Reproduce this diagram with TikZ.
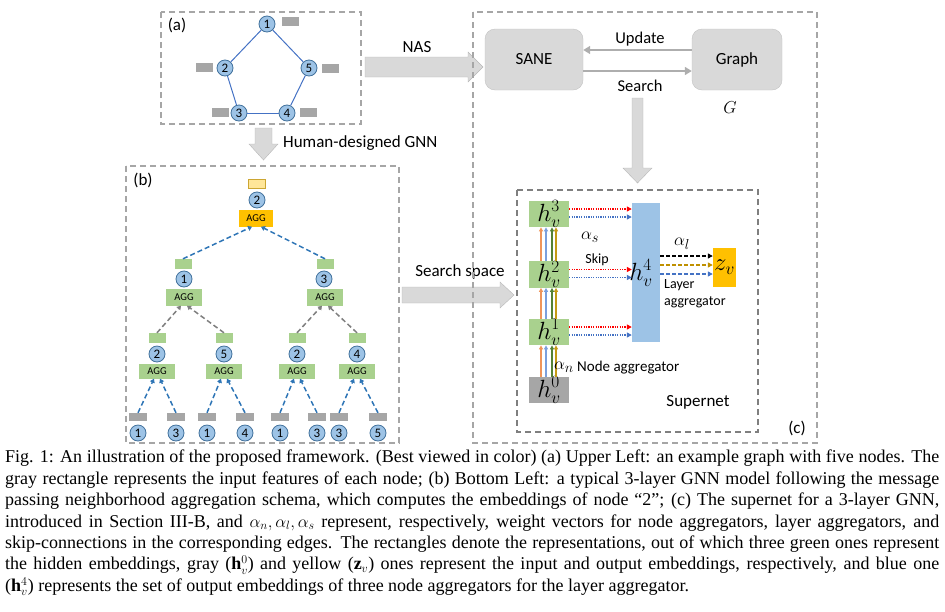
\documentclass[tikz,border=0pt]{standalone}
\usepackage{fontspec}
\setmainfont{Liberation Serif}
\newfontfamily\calib{Carlito}
\usetikzlibrary{arrows.meta,calc}
\definecolor{nodeblue}{HTML}{9DC3E6}
\definecolor{nodeedge}{HTML}{41719C}
\definecolor{edgeblue}{HTML}{4472C4}
\definecolor{featgray}{HTML}{A6A6A6}
\definecolor{hidgreen}{HTML}{A9D18E}
\definecolor{agggold}{HTML}{FFC000}
\definecolor{lightyel}{HTML}{FFE699}
\definecolor{darkgold}{HTML}{BF9000}
\definecolor{arrblue}{HTML}{2E75B6}
\definecolor{boxgray}{HTML}{D9D9D9}
\definecolor{dashgray}{HTML}{A6A6A6}
\definecolor{midgray}{HTML}{7F7F7F}
\definecolor{vorange}{HTML}{F0955A}
\definecolor{vblue}{HTML}{7B9FDC}
\definecolor{vgreen}{HTML}{548235}
\definecolor{vgold}{HTML}{C59B16}
\definecolor{connblue}{HTML}{4472C4}
\begin{document}
\begin{tikzpicture}[x=1pt,y=-1pt,
  gnode/.style={circle, draw=nodeedge, fill=nodeblue, line width=0.8pt, minimum size=16pt, inner sep=0pt, font=\calib\fontsize{13}{13}\selectfont},
  feat/.style={rectangle, fill=featgray, minimum width=17pt, minimum height=9pt, inner sep=0pt},
  hid/.style={rectangle, fill=hidgreen, minimum width=17pt, minimum height=10pt, inner sep=0pt},
  agg/.style={rectangle, fill=hidgreen, minimum width=36pt, minimum height=16pt, inner sep=0pt, font=\calib\fontsize{10.5}{11}\selectfont},
  dbox/.style={draw=dashgray, line width=1.4pt, dash pattern=on 6pt off 4pt},
  barrow/.style={fill=boxgray, draw=boxgray!85!black, line width=0.4pt},
  bluedash/.style={draw=arrblue, line width=1.5pt, dash pattern=on 5pt off 3pt, -{Triangle[width=5pt,length=4pt,fill=arrblue]}},
  graydash/.style={draw=midgray, line width=1.5pt, dash pattern=on 5pt off 3pt, -{Triangle[width=5pt,length=4pt,fill=midgray]}},
  lbl/.style={font=\calib\fontsize{17}{20}\selectfont, inner sep=0pt},
  slbl/.style={font=\calib\fontsize{14}{17}\selectfont, inner sep=0pt},
  sbox/.style={rectangle, rounded corners=10pt, fill=boxgray, draw=boxgray!90!black, line width=0.4pt, font=\calib\fontsize{17}{20}\selectfont},
  garrow/.style={draw=boxgray!80!black, line width=1.6pt, -{Triangle[width=8pt,length=7pt]}},
  hbox/.style={rectangle, fill=hidgreen, minimum width=40pt, inner sep=0pt, font=\fontsize{25}{28}\selectfont},
  varrow/.style={line width=1.1pt, -{Triangle[width=4pt,length=4pt]}},
  dotarrow/.style={line width=1.2pt, dash pattern=on 1.2pt off 1.2pt, -{Triangle[width=5pt,length=5pt]}},
  dsharrow/.style={line width=1.2pt, dash pattern=on 4pt off 2pt, -{Triangle[width=5pt,length=5pt]}},
  mlbl/.style={font=\fontsize{19}{22}\selectfont, inner sep=0pt}
]
\useasboundingbox (0,0) rectangle (945,611);

% ---------- (a) ----------
\draw[dbox] (161,12) rectangle (361,124);
\node[lbl] (la) at (177,25) {(a)};
\node[gnode] (a1) at (267,24) {1};
\node[gnode] (a2) at (225,68) {2};
\node[gnode] (a5) at (309,68) {5};
\node[gnode] (a3) at (239,113) {3};
\node[gnode] (a4) at (287,113) {4};
\draw[edgeblue, line width=1pt] (a1) -- (a2);
\draw[edgeblue, line width=1pt] (a2) -- (a3);
\draw[edgeblue, line width=1pt] (a3) -- (a4);
\draw[edgeblue, line width=1pt] (a4) -- (a5);
\draw[edgeblue, line width=1pt] (a5) -- (a1);
\node[feat] (f1) at (290,21) {};
\node[feat] (f2) at (204,67) {};
\node[feat] (f5) at (330,68) {};
\node[feat] (f3) at (220,112) {};
\node[feat] (f4) at (308,112) {};

% human-designed arrow
\draw[barrow] (255,128) -- (272,128) -- (272,144) -- (278,144) -- (263.5,160) -- (249,144) -- (255,144) -- cycle;
\node[lbl, anchor=west] (lhum) at (283,143) {Human-designed GNN};

% ---------- (b) ----------
\draw[dbox] (126,166) rectangle (399,443);
\node[lbl] (lb) at (143,180) {(b)};
\node[rectangle, fill=lightyel, draw=darkgold!80, line width=0.6pt, minimum width=17pt, minimum height=9pt, inner sep=0pt] (tr) at (257,184) {};
\node[gnode] (tc) at (257,200) {2};
\node[agg, fill=agggold, minimum width=34pt, minimum height=17pt] (ta) at (256,218) {AGG};

\node[hid] (lr) at (183,264) {};
\node[gnode] (lc) at (184,279) {1};
\node[agg, minimum height=17pt] (la2) at (184,297) {AGG};
\node[hid] (rr) at (325,264) {};
\node[gnode] (rc) at (324,279) {3};
\node[agg, minimum height=17pt] (ra2) at (325,297) {AGG};

\draw[bluedash] (lr.north) -- ($(ta.south)+(-4,0)$);
\draw[bluedash] (rr.north) -- ($(ta.south)+(5,0)$);

\foreach \i/\x/\n in {1/157/2, 2/224/5, 3/297/2, 4/357/4} {
  \node[hid] (m\i r) at (\x,338) {};
  \node[gnode] (m\i c) at (\x,354) {\n};
  \node[agg, minimum height=15pt] (m\i a) at (\x,371) {AGG};
}
\draw[graydash] (m1r.north) -- ($(la2.south)+(-3,0)$);
\draw[graydash] (m2r.north) -- ($(la2.south)+(3,0)$);
\draw[graydash] (m3r.north) -- ($(ra2.south)+(-3,0)$);
\draw[graydash] (m4r.north) -- ($(ra2.south)+(3,0)$);

\foreach \i/\xa/\na/\xb/\nb in {1/138/1/176/3, 2/207/1/245/4, 3/280/1/317/3, 4/339/3/378/5} {
  \node[feat, minimum width=18pt, minimum height=8pt] (b\i l) at (\xa,417) {};
  \node[feat, minimum width=18pt, minimum height=8pt] (b\i r) at (\xb,417) {};
  \node[gnode] (b\i lc) at (\xa,433) {\na};
  \node[gnode] (b\i rc) at (\xb,433) {\nb};
  \draw[bluedash] (b\i l.north) -- ($(m\i a.south)+(-3,0)$);
  \draw[bluedash] (b\i r.north) -- ($(m\i a.south)+(3,0)$);
}

% NAS arrow
\draw[barrow] (365,57) -- (468,57) -- (468,52) -- (483,67) -- (468,82) -- (468,77) -- (365,77) -- cycle;
\node[lbl] (lnas) at (417,47) {NAS};

% search space arrow
\draw[barrow] (402,287) -- (500,287) -- (500,282) -- (514,295) -- (500,308) -- (500,303) -- (402,303) -- cycle;
\node[lbl] (lss) at (460,272) {Search space};

% ---------- (c) ----------
\draw[dbox] (473,12) rectangle (817,443);
\node[sbox, minimum width=98pt, minimum height=61pt] (sane) at (534,59.5) {SANE};
\node[sbox, minimum width=90pt, minimum height=61pt] (graph) at (737,59.5) {Graph};
\draw[garrow] ($(graph.west)+(0,-9.5)$) -- ($(sane.east)+(0,-9.5)$);
\draw[garrow] ($(sane.east)+(0,11.5)$) -- ($(graph.west)+(0,11.5)$);
\node[lbl, font=\calib\fontsize{16.5}{20}\selectfont] (lup) at (640,39) {Update};
\node[lbl, font=\calib\fontsize{16.5}{20}\selectfont] (lse) at (640,86) {Search};
\node[mlbl] (lg) at (730,108) {$G$};

\draw[barrow] (632,98) -- (643,98) -- (643,168) -- (652,168) -- (637.5,183) -- (623,168) -- (632,168) -- cycle;

% supernet
\draw[draw=midgray, line width=1.4pt, dash pattern=on 6pt off 4pt] (517,190) rectangle (758,432);
\node[lbl] (lc3) at (797,428) {(c)};

\node[hbox, minimum height=24pt] (h3) at (549,214) {$h_v^3$};
\node[hbox, minimum height=23pt] (h2) at (549,274.5) {$h_v^2$};
\node[hbox, minimum height=22pt] (h1) at (549,332) {$h_v^1$};
\node[hbox, fill=featgray, minimum height=21pt] (h0) at (549,390) {$h_v^0$};
\node[rectangle, fill=nodeblue, minimum width=28pt, minimum height=139pt, inner sep=0pt] (h4) at (646,272.5) {};
\node[inner sep=0pt, font=\fontsize{26}{28}\selectfont] (h4l) at (641,273) {$h_v^4$};
\node[rectangle, fill=agggold, minimum width=23pt, minimum height=39pt, inner sep=0pt, font=\fontsize{25}{28}\selectfont] (zv) at (724.5,267.5) {$z_v$};

\foreach \lo/\hi in {h0/h1, h1/h2, h2/h3} {
  \foreach \dx/\col in {-8/vorange, -3/vblue, 3/vgreen, 7/vgold} {
    \draw[varrow, color=\col] ($(\lo.north)+(\dx,0)$) -- ($(\hi.south)+(\dx,0)$);
  }
}
\foreach \h in {h1, h2, h3} {
  \draw[dotarrow, color=red] ($(\h.east)+(0,-5)$) -- ($(h4.west |- \h.east)+(0,-5)$);
  \draw[dotarrow, color=connblue] ($(\h.east)+(0,3)$) -- ($(h4.west |- \h.east)+(0,3)$);
}
\draw[dsharrow, color=black] ($(h4.east |- zv.west)+(0,-11.5)$) -- ($(zv.west)+(0,-11.5)$);
\draw[dsharrow, color=darkgold] ($(h4.east |- zv.west)+(0,-2.5)$) -- ($(zv.west)+(0,-2.5)$);
\draw[dsharrow, color=connblue] ($(h4.east |- zv.west)+(0,6.5)$) -- ($(zv.west)+(0,6.5)$);

\node[mlbl] (lal) at (682,244) {$\alpha_l$};
\node[mlbl] (las) at (590,237) {$\alpha_s$};
\node[slbl] (lskip) at (597,260) {Skip};
\node[slbl, anchor=north west, align=left] (llay) at (664,279) {Layer\\aggregator};
\node[mlbl, anchor=east] (lan) at (574,367) {$\alpha_n$};
\node[slbl, font=\calib\fontsize{15}{18}\selectfont, anchor=west] (lnode) at (577,368) {Node aggregator};
\node[lbl] (lsup) at (698,402) {Supernet};

% caption
\node[anchor=north west, inner sep=0pt, align=left, font=\fontsize{18}{21.4}\selectfont] (cap) at (5,450) {%
\makebox[934pt][s]{Fig. 1: An illustration of the proposed framework. (Best viewed in color) (a) Upper Left: an example graph with five nodes. The}\\
\makebox[934pt][s]{gray rectangle represents the input features of each node; (b) Bottom Left: a typical 3-layer GNN model following the message}\\
\makebox[934pt][s]{passing neighborhood aggregation schema, which computes the embeddings of node ``2''; (c) The supernet for a 3-layer GNN,}\\
\makebox[934pt][s]{introduced in Section III-B, and $\alpha_n, \alpha_l, \alpha_s$ represent, respectively, weight vectors for node aggregators, layer aggregators, and}\\
\makebox[934pt][s]{skip-connections in the corresponding edges. The rectangles denote the representations, out of which three green ones represent}\\
\makebox[934pt][s]{the hidden embeddings, gray ($\mathbf{h}_v^0$) and yellow ($\mathbf{z}_v$) ones represent the input and output embeddings, respectively, and blue one}\\
\makebox[934pt][l]{($\mathbf{h}_v^4$) represents the set of output embeddings of three node aggregators for the layer aggregator.}};
\end{tikzpicture}
\end{document}
